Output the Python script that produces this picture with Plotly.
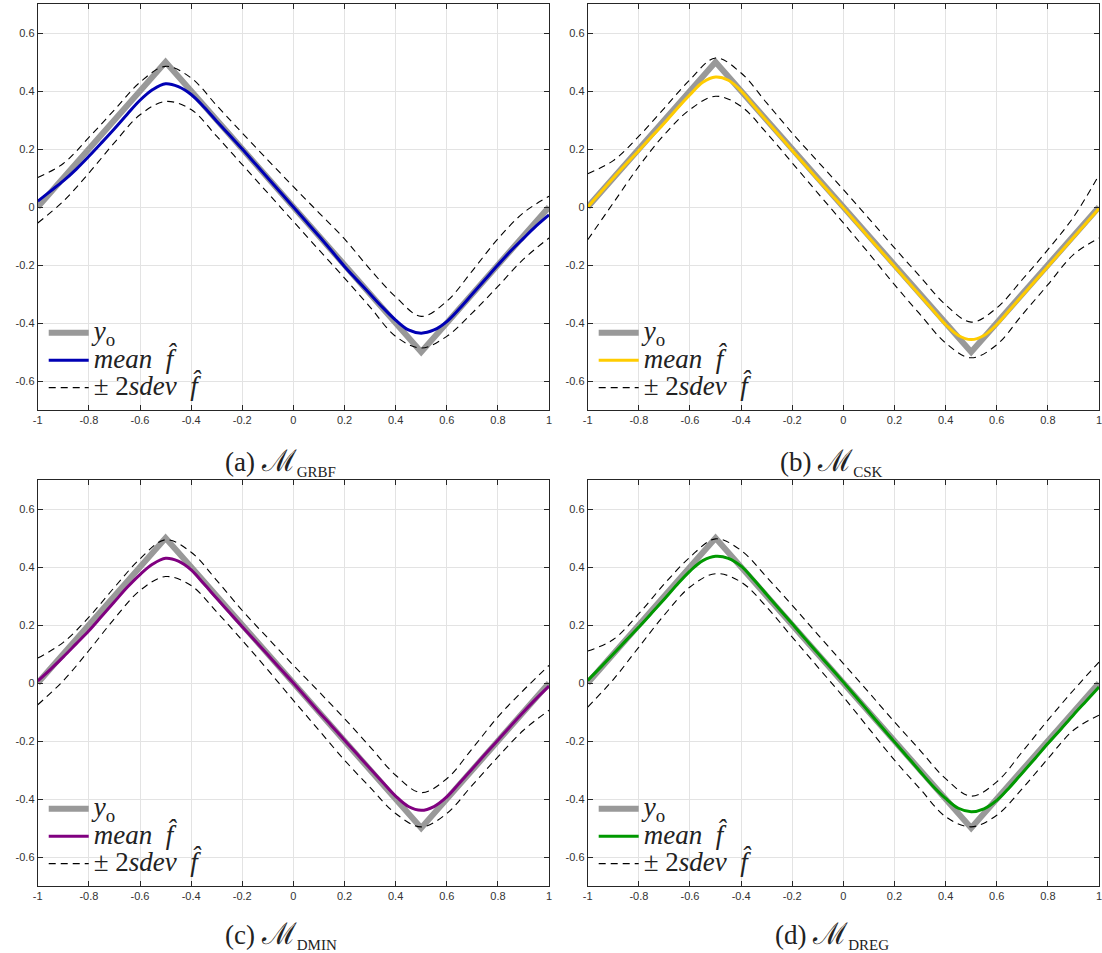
import plotly.graph_objects as go

# ---------------- data ----------------
x_grid = [-1.0, -0.9, -0.8, -0.7, -0.6, -0.5, -0.4, -0.3, -0.2, -0.1, 0.0,
          0.1, 0.2, 0.3, 0.4, 0.5, 0.6, 0.7, 0.8, 0.9, 1.0]
x_mean = [-1.0, -0.95, -0.9, -0.85, -0.8, -0.75, -0.7, -0.65, -0.6, -0.55, -0.5,
          -0.45, -0.4, -0.35, -0.3, -0.25, -0.2, -0.15, -0.1, -0.05, 0.0,
          0.05, 0.1, 0.15, 0.2, 0.25, 0.3, 0.35, 0.4, 0.45, 0.5,
          0.55, 0.6, 0.65, 0.7, 0.75, 0.8, 0.85, 0.9, 0.95, 1.0]

x_true = [-1.0, -0.5, 0.5, 1.0]
y_true = [0.0, 0.5, -0.5, 0.0]

mean_grbf = [0.02, 0.055, 0.09, 0.13, 0.175, 0.222, 0.27, 0.32, 0.368, 0.405, 0.425,
             0.415, 0.388, 0.345, 0.296, 0.248, 0.2, 0.15, 0.1, 0.05, 0.0,
             -0.05, -0.1, -0.152, -0.205, -0.253, -0.3, -0.347, -0.39, -0.424, -0.435,
             -0.424, -0.395, -0.35, -0.3, -0.25, -0.2, -0.152, -0.108, -0.065, -0.027]
upper_grbf = [0.102, 0.15, 0.24, 0.335, 0.43, 0.485, 0.445, 0.35, 0.255, 0.162, 0.07,
              -0.02, -0.11, -0.215, -0.31, -0.377, -0.325, -0.22, -0.11, -0.02, 0.037]
lower_grbf = [-0.055, 0.02, 0.117, 0.222, 0.318, 0.364, 0.336, 0.244, 0.146, 0.048, -0.05,
              -0.148, -0.245, -0.345, -0.446, -0.486, -0.446, -0.365, -0.274, -0.18, -0.107]

mean_csk = [0.0, 0.05, 0.1, 0.148, 0.195, 0.243, 0.29, 0.34, 0.387, 0.43, 0.448,
            0.437, 0.4, 0.348, 0.297, 0.246, 0.195, 0.145, 0.095, 0.046, -0.003,
            -0.054, -0.105, -0.155, -0.205, -0.255, -0.305, -0.355, -0.405, -0.443, -0.457,
            -0.443, -0.405, -0.355, -0.305, -0.255, -0.205, -0.155, -0.105, -0.055, -0.005]
upper_csk = [0.115, 0.16, 0.244, 0.341, 0.439, 0.514, 0.462, 0.359, 0.255, 0.157, 0.06,
             -0.04, -0.141, -0.24, -0.337, -0.397, -0.348, -0.25, -0.147, -0.035, 0.11]
lower_csk = [-0.113, 0.014, 0.14, 0.25, 0.336, 0.382, 0.347, 0.255, 0.152, 0.048, -0.055,
             -0.16, -0.268, -0.37, -0.469, -0.52, -0.475, -0.371, -0.268, -0.164, -0.107]

mean_dmin = [0.007, 0.047, 0.09, 0.135, 0.18, 0.23, 0.28, 0.33, 0.374, 0.41, 0.43,
             0.42, 0.39, 0.342, 0.292, 0.243, 0.194, 0.146, 0.097, 0.048, 0.0,
             -0.05, -0.1, -0.148, -0.197, -0.246, -0.295, -0.343, -0.39, -0.426, -0.439,
             -0.426, -0.393, -0.345, -0.296, -0.246, -0.197, -0.148, -0.1, -0.054, -0.011]
upper_dmin = [0.086, 0.14, 0.227, 0.33, 0.428, 0.494, 0.451, 0.354, 0.25, 0.155, 0.061,
              -0.03, -0.123, -0.22, -0.318, -0.378, -0.33, -0.226, -0.117, -0.025, 0.061]
lower_dmin = [-0.075, 0.008, 0.112, 0.222, 0.319, 0.367, 0.336, 0.245, 0.147, 0.045, -0.06,
              -0.163, -0.266, -0.36, -0.45, -0.496, -0.45, -0.352, -0.255, -0.163, -0.094]

mean_dreg = [0.009, 0.054, 0.1, 0.147, 0.193, 0.241, 0.29, 0.34, 0.386, 0.422, 0.437,
             0.43, 0.403, 0.356, 0.305, 0.254, 0.204, 0.153, 0.103, 0.053, 0.003,
             -0.048, -0.1, -0.152, -0.203, -0.254, -0.305, -0.355, -0.398, -0.432, -0.444,
             -0.434, -0.405, -0.36, -0.31, -0.26, -0.209, -0.16, -0.11, -0.062, -0.014]
upper_dreg = [0.11, 0.15, 0.239, 0.342, 0.434, 0.497, 0.457, 0.365, 0.268, 0.167, 0.067,
              -0.033, -0.134, -0.232, -0.33, -0.39, -0.341, -0.237, -0.128, -0.025, 0.072]
lower_dreg = [-0.083, 0.012, 0.124, 0.235, 0.331, 0.377, 0.348, 0.262, 0.158, 0.055, -0.048,
              -0.157, -0.266, -0.365, -0.461, -0.496, -0.456, -0.364, -0.261, -0.163, -0.111]

x_ticks = [-1, -0.8, -0.6, -0.4, -0.2, 0, 0.2, 0.4, 0.6, 0.8, 1]
x_tick_text = ["-1", "-0.8", "-0.6", "-0.4", "-0.2", "0", "0.2", "0.4", "0.6", "0.8", "1"]
y_ticks = [-0.6, -0.4, -0.2, 0, 0.2, 0.4, 0.6]
y_tick_text = ["-0.6", "-0.4", "-0.2", "0", "0.2", "0.4", "0.6"]

panel_labels = ["(a)", "(b)", "(c)", "(d)"]
model_names = ["GRBF", "CSK", "DMIN", "DREG"]
mean_colors = ["#0000b4", "#ffcc00", "#800080", "#009900"]

means = [mean_grbf, mean_csk, mean_dmin, mean_dreg]
uppers = [upper_grbf, upper_csk, upper_dmin, upper_dreg]
lowers = [lower_grbf, lower_csk, lower_dmin, lower_dreg]

# ---------------- layout ----------------
W, H = 1102, 953
x_doms = [[33 / W, 548 / W], [587 / W, 1.0]]
y_doms = [[(H - 410) / H, (H - 4) / H], [(H - 886) / H, (H - 480) / H]]
caption_y_px = [462, 935]
caption_x_px = [278, 833]

BIG = "<span style='font-size:27px'>{}</span>"

fig = go.Figure()
legend_names = ["legend", "legend2", "legend3", "legend4"]

for i in range(4):
    r, c = divmod(i, 2)
    xa = "x" if i == 0 else f"x{i + 1}"
    ya = "y" if i == 0 else f"y{i + 1}"
    lg = legend_names[i]
    fig.add_trace(go.Scatter(x=x_true, y=y_true, mode="lines",
                             line=dict(color="#999999", width=6),
                             name=BIG.format("<i>y</i><sub>o</sub>"),
                             xaxis=xa, yaxis=ya, legend=lg))
    fig.add_trace(go.Scatter(x=x_mean, y=means[i], mode="lines",
                             line=dict(color=mean_colors[i], width=3, shape="spline", smoothing=1.0),
                             name=BIG.format("<i>mean</i>  <i>f̂</i>"),
                             xaxis=xa, yaxis=ya, legend=lg))
    fig.add_trace(go.Scatter(x=x_grid, y=uppers[i], mode="lines",
                             line=dict(color="black", width=1.1, dash="7px,5px", shape="spline", smoothing=1.0),
                             name=BIG.format("± 2<i>sdev</i>  <i>f̂</i>"),
                             xaxis=xa, yaxis=ya, legend=lg))
    fig.add_trace(go.Scatter(x=x_grid, y=lowers[i], mode="lines",
                             line=dict(color="black", width=1.1, dash="7px,5px", shape="spline", smoothing=1.0),
                             showlegend=False,
                             xaxis=xa, yaxis=ya, legend=lg))

    axis_common = dict(showline=True, linecolor="#262626", linewidth=1, mirror="ticks",
                       ticks="inside", ticklen=5, tickcolor="#262626", tickwidth=1,
                       showgrid=True, gridcolor="#e3e3e3", gridwidth=1, zeroline=False,
                       ticklabeloverflow="allow",
                       tickfont=dict(family="Liberation Sans, Arial", size=11, color="#333333"))
    xkey = "xaxis" if i == 0 else f"xaxis{i + 1}"
    ykey = "yaxis" if i == 0 else f"yaxis{i + 1}"
    fig.update_layout(**{
        xkey: dict(domain=x_doms[c], range=[-1, 1], anchor=ya,
                   tickvals=x_ticks, ticktext=x_tick_text, **axis_common),
        ykey: dict(domain=y_doms[r], range=[-0.7, 0.7], anchor=xa,
                   tickvals=y_ticks, ticktext=y_tick_text, **axis_common),
    })

    lx = x_doms[c][0] + 6 / W
    ly = y_doms[r][0] + (410 - 314) / H
    fig.update_layout(**{lg: dict(x=lx, y=ly, xanchor="left", yanchor="top",
                                  bgcolor="rgba(0,0,0,0)", borderwidth=0,
                                  itemwidth=40, tracegroupgap=0,
                                  font=dict(family="Liberation Serif, DejaVu Serif", size=18.8,
                                            color="#222222"))})

    cx = caption_x_px[c] / W
    cy = (H - caption_y_px[r]) / H
    fig.add_annotation(x=cx, y=cy, xref="paper", yref="paper",
                       xanchor="center", yanchor="middle", showarrow=False,
                       text=(f"{panel_labels[i]} <span style='font-size:30px'>ℳ</span>"
                             f"<sub><span style='font-size:15px'>{model_names[i]}</span></sub>"),
                       font=dict(family="Liberation Serif, DejaVu Serif", size=27, color="#222222"))

fig.update_layout(width=W, height=H, margin=dict(l=0, r=0, t=0, b=0),
                  plot_bgcolor="white", paper_bgcolor="white")

fig.write_html("out.html", config={"displayModeBar": False},
               post_script="document.body.style.margin='0';document.body.style.overflow='hidden';")
